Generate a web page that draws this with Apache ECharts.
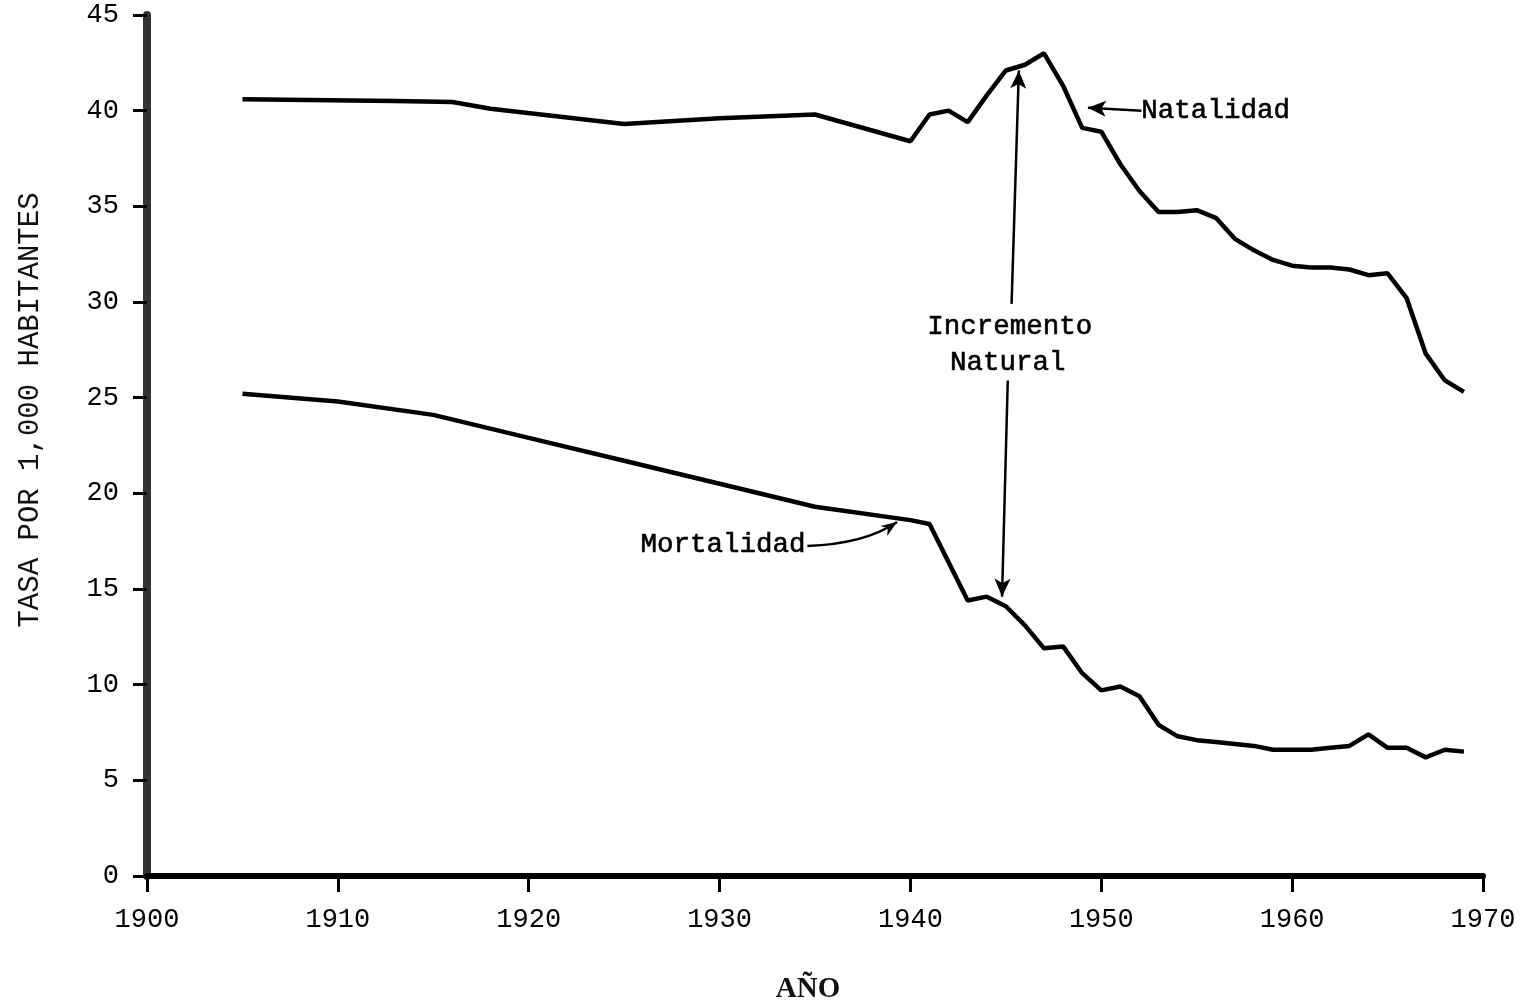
<!DOCTYPE html>
<html>
<head>
<meta charset="utf-8">
<script src="https://cdn.jsdelivr.net/npm/echarts@6/dist/echarts.min.js"></script>
<style>
html,body{margin:0;padding:0;background:#fff;}
#chart{width:1531px;height:1007px;}
</style>
</head>
<body>
<div id="chart"></div>
<script>
// ---- data ----
const natYears = [1905,1913,1916,1918,1925,1930,1935,1940,1941,1942,1943,1944,1945,1946,1947,1948,1949,1950,1951,1952,1953,1954,1955,1956,1957,1958,1959,1960,1961,1962,1963,1964,1965,1966,1967,1968,1969];
const natValues = [40.6,40.5,40.45,40.1,39.3,39.6,39.8,38.4,39.8,40.0,39.4,40.8,42.1,42.4,43.0,41.3,39.1,38.9,37.2,35.8,34.7,34.7,34.8,34.4,33.3,32.7,32.2,31.9,31.8,31.8,31.7,31.4,31.5,30.2,27.3,25.9,25.3];
const mortYears = [1905,1910,1915,1920,1925,1930,1935,1940,1941,1942,1943,1944,1945,1946,1947,1948,1949,1950,1951,1952,1953,1954,1955,1956,1957,1958,1959,1960,1961,1962,1963,1964,1965,1966,1967,1968,1969];
const mortValues = [25.2,24.8,24.1,22.9,21.7,20.5,19.3,18.6,18.4,16.4,14.4,14.6,14.1,13.1,11.9,12.0,10.6,9.7,9.9,9.4,7.9,7.3,7.1,7.0,6.9,6.8,6.6,6.6,6.6,6.7,6.8,7.4,6.7,6.7,6.2,6.6,6.5];
const xTicks = [1900,1910,1920,1930,1940,1950,1960,1970];
const yTicks = [0,5,10,15,20,25,30,35,40,45];
const seriesNames = ['Natalidad','Mortalidad'];
const annotationTexts = {nat:'Natalidad', mort:'Mortalidad', inc1:'Incremento', inc2:'Natural'};
const yTitle = 'TASA POR 1,000 HABITANTES';
const xTitle = 'AÑO';

const natData = natYears.map((y,i)=>[y,natValues[i]]);
const mortData = mortYears.map((y,i)=>[y,mortValues[i]]);

const MONO = '"Liberation Mono", "DejaVu Sans Mono", monospace';
const SERIF = '"Liberation Serif", "DejaVu Serif", serif';

const chart = echarts.init(document.getElementById('chart'));

const arrowLine = (a, b) => [{coord: a}, {coord: b}];

const option = {
  animation: false,
  backgroundColor: '#fff',
  grid: {left: 147, right: 48, top: 15, bottom: 131, containLabel: false, outerBoundsMode: 'none'},
  xAxis: {
    type: 'value', min: 1900, max: 1970, interval: 10,
    axisLine: {show: true, onZero: false, lineStyle: {color: '#000', width: 6}},
    axisTick: {show: true, inside: false, length: 16, lineStyle: {color: '#000', width: 3}},
    axisLabel: {margin: 30, color: '#000', fontFamily: MONO, fontSize: 27,
      formatter: v => xTicks.includes(v) ? String(v) : ''},
    splitLine: {show: false}
  },
  yAxis: {
    type: 'value', min: 0, max: 45, interval: 5,
    axisLine: {show: true, onZero: false, lineStyle: {color: '#333', width: 8}},
    axisTick: {show: true, length: 14, lineStyle: {color: '#000', width: 3}},
    axisLabel: {margin: 28, color: '#000', fontFamily: MONO, fontSize: 27,
      formatter: v => yTicks.includes(v) ? String(v) : ''},
    splitLine: {show: false}
  },
  series: [
    {
      name: seriesNames[0], type: 'line', data: natData, symbol: 'none',
      lineStyle: {color: '#000', width: 4.5}, z: 5,
      markLine: {
        silent: true, symbol: ['none','arrow'], symbolSize: [12, 18],
        label: {show: false},
        lineStyle: {color: '#000', width: 2.5, type: 'solid'},
        data: [
          arrowLine([1952.1, 40.0], [1949.3, 40.15]),
          arrowLine([1945.3, 29.9], [1945.68, 42.1]),
          arrowLine([1945.1, 25.9], [1944.8, 14.6])
        ]
      }
    },
    {
      name: seriesNames[1], type: 'line', data: mortData, symbol: 'none',
      lineStyle: {color: '#000', width: 4.5}, z: 5
    }
  ]
};
chart.setOption(option);

// annotations placed in data coordinates
function px(pt){ return chart.convertToPixel({gridIndex: 0}, pt); }
const labelDefs = [
  {t: annotationTexts.nat, at: [1952.1, 40.0], align: 'left'},
  {t: annotationTexts.mort, at: [1934.5, 17.3], align: 'right'},
  {t: annotationTexts.inc1, at: [1945.2, 28.7], align: 'center'},
  {t: annotationTexts.inc2, at: [1945.1, 26.85], align: 'center'}
];
const gr = labelDefs.map(d => {
  const p = px(d.at);
  return {
    type: 'text', x: p[0], y: p[1], z: 10,
    style: {text: d.t, fontFamily: MONO, fontSize: 27.5, fill: '#000',
      align: d.align, verticalAlign: 'middle', stroke: '#000', lineWidth: 0.6}
  };
});

// curved arrow for "Mortalidad"
const cStart = px([1934.6, 17.25]);
const cCtrl = px([1937.6, 17.35]);
const cEnd = px([1939.3, 18.5]);
gr.push({
  type: 'bezierCurve', z: 10,
  shape: {x1: cStart[0], y1: cStart[1], cpx1: cCtrl[0], cpy1: cCtrl[1], x2: cEnd[0], y2: cEnd[1]},
  style: {stroke: '#000', lineWidth: 2.5, fill: 'none'}
});
(function(){
  const dx = cEnd[0] - cCtrl[0], dy = cEnd[1] - cCtrl[1];
  const len = Math.hypot(dx, dy), ux = dx / len, uy = dy / len;
  const L = 16, W = 6;
  const bx = cEnd[0] - ux * L, by = cEnd[1] - uy * L;
  gr.push({
    type: 'polygon', z: 11,
    shape: {points: [[cEnd[0], cEnd[1]], [bx - uy * W, by + ux * W], [cEnd[0] - ux * L * 0.7, cEnd[1] - uy * L * 0.7], [bx + uy * W, by - ux * W]]},
    style: {fill: '#000'}
  });
})();

gr.push({
  type: 'text', x: 30, y: 410, rotation: Math.PI / 2, z: 10,
  style: {text: yTitle, fontFamily: MONO, fontSize: 29, fill: '#111', align: 'center', verticalAlign: 'middle'}
});
gr.push({
  type: 'text', x: 808, y: 990, z: 10,
  style: {text: xTitle, fontFamily: SERIF, fontSize: 29, fontWeight: 'bold', fill: '#111', align: 'center', verticalAlign: 'middle'}
});
chart.setOption({graphic: gr});
</script>
</body>
</html>
